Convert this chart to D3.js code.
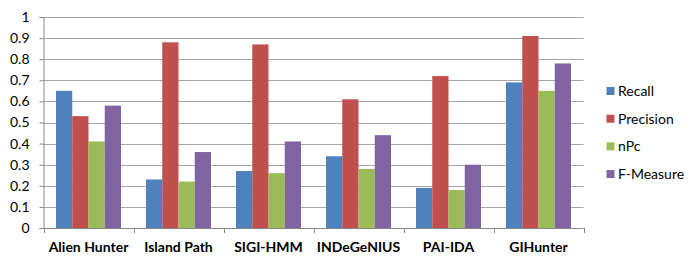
<!DOCTYPE html>
<html>
<head>
<meta charset="utf-8">
<script src="https://cdn.jsdelivr.net/npm/d3@7"></script>
<style>
  body { margin: 0; background: #fff; }
  text { font-family: Lato, "Open Sans", sans-serif; }
</style>
</head>
<body>
<div id="chart"></div>
<script>
// Chart data
const tools = ["Alien Hunter", "Island Path", "SIGI-HMM", "INDeGeNIUS", "PAI-IDA", "GIHunter"];
const measures = ["Recall", "Precision", "nPc", "F-Measure"];
const recall = [0.65, 0.23, 0.27, 0.34, 0.19, 0.69];
const precision = [0.53, 0.88, 0.87, 0.61, 0.72, 0.91];
const npc = [0.41, 0.22, 0.26, 0.28, 0.18, 0.65];
const fMeasure = [0.58, 0.36, 0.41, 0.44, 0.30, 0.78];
const yTicks = [0, 0.1, 0.2, 0.3, 0.4, 0.5, 0.6, 0.7, 0.8, 0.9, 1];

const seriesValues = [recall, precision, npc, fMeasure];
const colors = ["#4F81BD", "#C0504D", "#9BBB59", "#8064A2"];

const width = 700, height = 266;
const plotLeft = 43.5, plotRight = 583.5, plotTop = 17, plotBottom = 228;

const svg = d3.select("#chart").append("svg")
  .attr("width", width)
  .attr("height", height);

const x = d3.scaleBand()
  .domain(tools)
  .range([plotLeft, plotRight])
  .paddingInner(0)
  .paddingOuter(0);

const x1 = d3.scaleBand()
  .domain(measures)
  .range([0, x.bandwidth()])
  .paddingOuter(0.77)
  .paddingInner(0);

const y = d3.scaleLinear()
  .domain([0, 1])
  .range([plotBottom, plotTop]);

// gridlines
svg.append("g")
  .selectAll("line")
  .data(yTicks.slice(1))
  .enter()
  .append("line")
  .attr("x1", plotLeft)
  .attr("x2", plotRight)
  .attr("y1", d => Math.round(y(d)) + 0.5)
  .attr("y2", d => Math.round(y(d)) + 0.5)
  .attr("stroke", "#a6a6a6")
  .attr("stroke-width", 1);

// bars
const groups = svg.append("g")
  .selectAll("g")
  .data(tools)
  .enter()
  .append("g")
  .attr("transform", d => `translate(${x(d)},0)`);

groups.selectAll("rect")
  .data((d, i) => measures.map((m, j) => ({ m: m, v: seriesValues[j][i], c: colors[j] })))
  .enter()
  .append("rect")
  .attr("x", d => x1(d.m))
  .attr("y", d => y(d.v))
  .attr("width", x1.bandwidth())
  .attr("height", d => plotBottom - y(d.v))
  .attr("fill", d => d.c);

// y axis
const yAxis = svg.append("g")
  .attr("transform", `translate(${plotLeft},0)`)
  .call(d3.axisLeft(y).tickValues(yTicks).tickFormat(d => String(+d.toFixed(1))).tickSize(4).tickPadding(10));
yAxis.select(".domain").attr("stroke", "#868686");
yAxis.selectAll(".tick line").attr("stroke", "#868686");
yAxis.selectAll(".tick text")
  .attr("font-size", 14)
  .attr("fill", "#000")
  .style("font-family", "Lato, sans-serif");

// x axis
const xAxisG = svg.append("g")
  .attr("transform", `translate(0,${plotBottom})`);
xAxisG.append("line")
  .attr("x1", plotLeft).attr("x2", plotRight)
  .attr("y1", 0.5).attr("y2", 0.5)
  .attr("stroke", "#868686");
xAxisG.selectAll(".sep")
  .data(tools.concat(["end"]))
  .enter()
  .append("line")
  .attr("x1", (d, i) => Math.round(plotLeft + i * x.bandwidth()) + 0.5)
  .attr("x2", (d, i) => Math.round(plotLeft + i * x.bandwidth()) + 0.5)
  .attr("y1", 0)
  .attr("y2", 5)
  .attr("stroke", "#868686");
xAxisG.selectAll(".lbl")
  .data(tools)
  .enter()
  .append("text")
  .attr("x", d => x(d) + x.bandwidth() / 2)
  .attr("y", 24)
  .attr("text-anchor", "middle")
  .attr("font-size", 14)
  .attr("font-weight", "bold")
  .attr("fill", "#000")
  .text(d => d);

// legend
const legend = svg.append("g")
  .attr("transform", "translate(606,91)");
const items = legend.selectAll("g")
  .data(measures)
  .enter()
  .append("g")
  .attr("transform", (d, i) => `translate(0,${i * 27.7})`);
items.append("rect")
  .attr("x", 0.5)
  .attr("y", -4)
  .attr("width", 8)
  .attr("height", 8)
  .attr("fill", (d, i) => colors[i]);
items.append("text")
  .attr("x", 12)
  .attr("y", 5)
  .attr("font-size", 14)
  .attr("fill", "#000")
  .text(d => d);
</script>
</body>
</html>
